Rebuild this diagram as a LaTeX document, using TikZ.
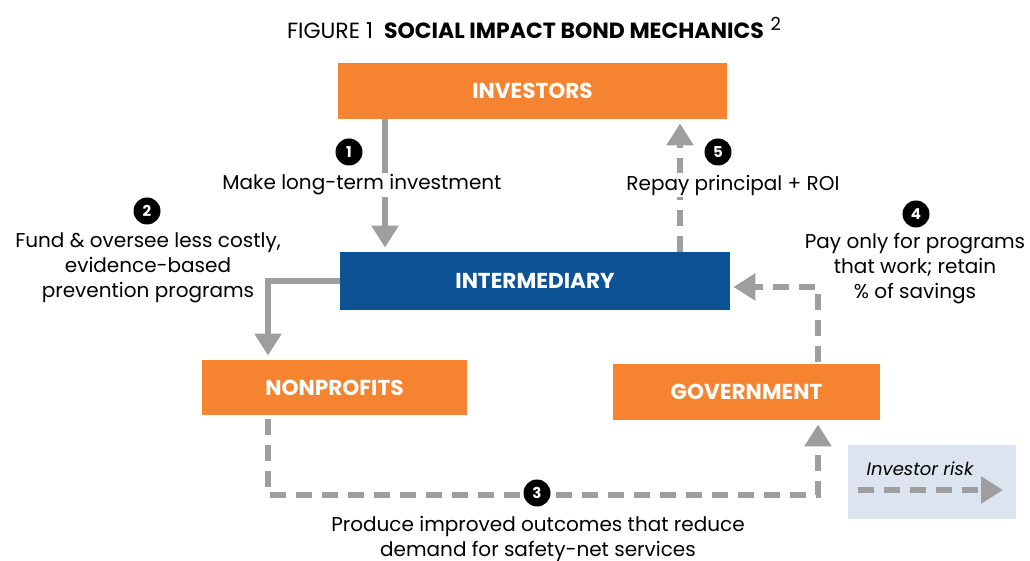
\documentclass[tikz,border=0pt]{standalone}
\usepackage{fontspec}
\setmainfont{Poppins}
\usetikzlibrary{arrows.meta, positioning}
\definecolor{sibOrange}{RGB}{246,131,48}
\definecolor{sibBlue}{RGB}{14,82,150}
\definecolor{sibGray}{RGB}{158,158,160}
\definecolor{sibKey}{RGB}{220,228,240}

\begin{document}
\begin{tikzpicture}[x=0.5pt, y=-0.5pt,
    box/.style={fill=#1, text=white, font=\fontsize{10.8}{12}\selectfont\bfseries, inner sep=0pt},
    num/.style={circle, fill=black, text=white, inner sep=0pt, minimum size=13.5pt, font=\fontsize{7.5}{9}\selectfont\bfseries},
    lbl/.style={align=center, font=\fontsize{10}{12.5}\selectfont, inner sep=1pt},
    flow/.style={draw=sibGray, line width=3pt, -{Triangle[width=13pt, length=11pt]}},
    risk/.style={flow, dash pattern=on 8pt off 5pt}]
    \useasboundingbox (0,0) rectangle (1030,561);

    % title
    \node[font=\fontsize{11}{13}\selectfont] (title) at (534,28) {FIGURE 1\hspace{0.5em}\textbf{SOCIAL IMPACT BOND MECHANICS}\hspace{0.3em}\raisebox{0.7ex}{\fontsize{9}{10}\selectfont 2}};

    % boxes
    \node[box=sibOrange, minimum width=194.5pt, minimum height=28pt] (inv) at (532.5,91) {INVESTORS};
    \node[box=sibBlue, minimum width=195pt, minimum height=29pt] (inter) at (535,281) {INTERMEDIARY};
    \node[box=sibOrange, minimum width=132.5pt, minimum height=27.5pt] (nonp) at (334.5,387.5) {NONPROFITS};
    \node[box=sibOrange, minimum width=133.5pt, minimum height=28pt] (gov) at (746.5,392) {GOVERNMENT};

    % connectors
    \draw[flow] ([xshift=-73.75pt]inv.south) -- ([xshift=-75pt, yshift=2pt]inter.north);
    \draw[risk] ([xshift=72.5pt]inter.north) -- ([xshift=73.75pt, yshift=-2pt]inv.south);
    \draw[flow] (inter.west) -| ([xshift=-33.25pt, yshift=2pt]nonp.north);
    \draw[risk] ([xshift=-33.25pt, yshift=-2pt]nonp.south) -- ++(0,-38pt) -| ([xshift=35.75pt, yshift=-2pt]gov.south);
    \draw[risk] ([xshift=35.75pt, yshift=1pt]gov.north) |- ([xshift=1.5pt, yshift=-3pt]inter.east);

    % labels
    \node[lbl, fill=white] (l1) at (362,185) {Make long-term investment};
    \node[lbl, fill=white] (l5) at (733,185) {Repay principal + ROI};
    \node[lbl] (l2) at (148,268) {Fund \& oversee less costly,\\evidence-based\\prevention programs};
    \node[lbl] (l4) at (915,269) {Pay only for programs\\that work; retain\\\% of savings};
    \node[lbl] (l3) at (538,539) {Produce improved outcomes that reduce\\demand for safety-net services};

    % step numbers
    \node[num] (n1) at (349,152) {1};
    \node[num] (n2) at (147,211) {2};
    \node[num] (n3) at (537,493) {3};
    \node[num] (n4) at (916,214) {4};
    \node[num] (n5) at (718,152) {5};

    % key
    \node[fill=sibKey, minimum width=84pt, minimum height=37pt, inner sep=0pt] (key) at (932,482) {};
    \node[font=\fontsize{9}{11}\selectfont\itshape, inner sep=0pt] (keytxt) at (920,469) {Investor risk};
    \coordinate (ka) at (858,490);
    \coordinate (kb) at (1003,490);
    \draw[risk] (ka) -- (kb);
\end{tikzpicture}
\end{document}
